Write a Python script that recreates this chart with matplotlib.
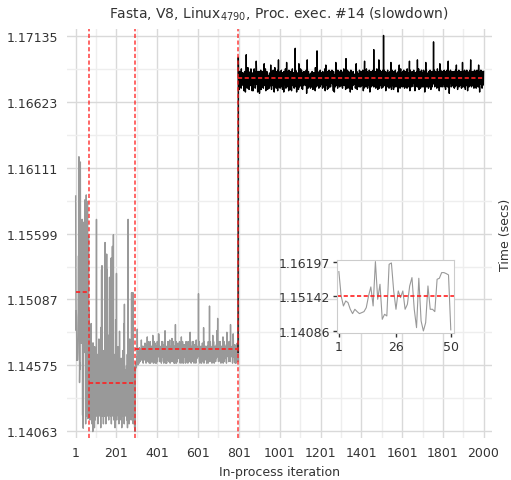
import matplotlib
matplotlib.use("Agg")
import matplotlib.pyplot as plt
from matplotlib.ticker import FixedLocator

# codes used for the long series: one char per iteration, value = base + index * step
ALPHABET = "0123456789abcdefghijklmnopqrstuvwxyzABCDEFGHIJKLMNOPQRSTUVWXYZ"

# iterations 1-68 (the first 50 are the ones shown in the inset)
seg_a = [1.15892, 1.15152, 1.14847, 1.14999, 1.14949, 1.14746, 1.14614, 1.14746,
         1.14675, 1.14614, 1.14644, 1.14675, 1.14797, 1.15152, 1.15426, 1.14847,
         1.16197, 1.15050, 1.15507, 1.14441, 1.14594, 1.14543, 1.16116, 1.16156,
         1.15304, 1.14746, 1.15304, 1.15101, 1.15304, 1.14746, 1.14898, 1.15456,
         1.15710, 1.14746, 1.14187, 1.15690, 1.14390, 1.14086, 1.14340, 1.15456,
         1.14746, 1.14746, 1.14675, 1.15659, 1.15690, 1.15862, 1.15862, 1.15832,
         1.15791, 1.14120,
         1.15450, 1.14320, 1.15900, 1.14180, 1.15020, 1.15600, 1.14250, 1.14700,
         1.15850, 1.14400, 1.14160, 1.15300, 1.14800, 1.15580, 1.14450, 1.15000,
         1.14200, 1.14750]

# iterations 69-293
seg_b_base, seg_b_step = 1.1406, 0.0003
seg_b_codes = """
5a3f8c4hsd 6b2k7e0n9c 5i8d1m6b3g 7c5dT4j8e6 k2a9f5o6d7
b4h6c1r5eG 7H4d9a6l2f 6c8i4bN7d5 2g9eK5cG8a 4j6b3p7dE5
c8f4a6J2h9 5dM7b4gP83 e6c9k1b7t5 a8F3di6c5m 7b4g2e9q6c
8f5a3j6d1h 7c9l5b4e8s 2x6g4c7d5a 8h3b6k1e9T 5c7f2a6o4d
8g5b3iA7c4 e6bA29d5h7 c1f0a
"""

# iterations 294-797
seg_c_base, seg_c_step = 1.1440, 0.00012
seg_c_codes = """
acfdhegkiC hjlfnikmgq jnlhpkomiv kplnirmogq nlrkpmitlo
mqgonsjpxl pnhulomqgt lousgqmphr olhpnyukgq knumpltgoi
pmrgonhulq nkpmzulohn rlnipmqgou mpkunlohqg lsnhpBmrgo
nkqgrlpiou qlnhumkpvo gpmnkrlhqw mnlphukoqg krolgpFmnu
pgnmrhlotj nqlpkmuhrg lmpinxrkgu hunlpmgqos mkpnrlgouh
rlohpnmguq kpnmulhoAm nlqgpimrou pmhnuklgqn lsknpmgrvo
njqlmpkroZ mpluhngoqm krolgnpmtq lnphDmguoq pkmnrliqog
mrjnplguqs nlpRmhkuqo kqmnlgproy phnulmgoqn rlnhpmjsoB
nkpJmrlhou lpnmkuhqog mrkpnlioqx gnpmulhsoq pljnmrgoAn
mqlpnkrhou nkumphFloq lpmnkrgqoz ukpnlmhsqg nlpgrmjoqt
mphn
"""

# iterations 798-2000
seg_d_base, seg_d_step = 1.1664, 0.0001
seg_d_codes = """
xlcg8ifmdh bkeg9ofcid hclebjgd7a fmcib6kgbz gdlc9hiped
cme8kgbldf ibodcgla7d kfa7ldhcog emb9adkgup dhclf69mei
gbmd5aflch nd8kegcamf hlb9gdmsei bkfoc7ighd mcfl8bhjce
ie9agcldbr fmc8hdkbig cngble6hdp gblfcm9iel kcg7nahvdf
blfdi9mcga hncebka8lg ecg6mcidhk cob99lgteb mdhacig7nf
dkbl8gecmh c7mfdobigl ebkg9lcdaE gncbmd6alf idbkg8csme
acldhobfgk n9egc8dlif cbmhdgckel gbdnc5bfvh lc9fmdhaeg
bkfd9achli eamcgb8ldh gldbkhc7pe cmgaelCdbi hbdlf9cmgk
adnbhfclie kcg9mdahbl egacod7bhr blfdkcg8im dh9ecnfalg
cmabgidkfn hdlcea7mgi b6fhcakdtl gbdmech9nf lcbgkdiaem
dhbncfbmgl a9kedhcobg mcfbld8aws edhc9nbigk bmd9gflch6
gcnbeial8h lcbmcfgdkc ehdg9cbosi cmf8ldhaeg kbgdnacmhf
aelchbmdgi ndg7kc9fmu bhcleagdof dmac9kgilb hfnbd6aemg
cgadmbhlei kncaDgbfld amhc9eldgo fbkd8alcmv dh9enbcigl
mcb9gdkhan gaOcnbdlei bdm7hfcgkl acnegbldh9 lbgdmacits
d8gcnbhlem c8hdkfamgb ndlacegbih afl6mdgbnr gcb9hdoake
ilbdgacmhf bndca9lehk makdcfb9og dhcalgbemu c7andbhfli
acmbgdlehk ngcadh7lbf edlbmcgavh kacgob8lhe bmd9fcagni
dhbcalgenk afmc6bhglt gcnadkbieh cl9dmagbhe nbgd8ahlfm
abmcgdhJel dncabkgmhf glb9cdoaei madhc7bksl cgnbaelhdm
bhadmcglfn dcgakb8mei lbdncagkhu acmd5bgelf ndgcabimhk
gcbmdaleh9 mdhacngblr bgdlc8mfhe cnagbdkhil dmbc9ghaet
hcadlbgmfn acg8mdhlbe ndbc7aileh gamcdbnhkv cldagbmhei
bmcdh9lgnf dagbmc9lhe nchdbagmrl amb6dlchen gdlca9mhbf
hcm
"""

# mean of each segment (red dashed lines)
seg_means = [1.15142, 1.14436, 1.14701, 1.16808]

y_ticks = [1.14063, 1.14575, 1.15087, 1.15599, 1.16111, 1.16623, 1.17135]
x_ticks = [1, 201, 401, 601, 801, 1001, 1201, 1401, 1601, 1801, 2000]
inset_y_ticks = [1.14086, 1.15142, 1.16197]
inset_x_ticks = [1, 26, 50]
inset_len = 50

TXT = "#333333"
GREY = "#999999"
RED = "#ff2020"
DASH = (0, (2.5, 1.5))


def decode(codes, base, step):
    return [base + ALPHABET.index(c) * step for c in "".join(codes.split())]


seg_b = decode(seg_b_codes, seg_b_base, seg_b_step)
seg_c = decode(seg_c_codes, seg_c_base, seg_c_step)
seg_d = decode(seg_d_codes, seg_d_base, seg_d_step)

times = seg_a + seg_b + seg_c + seg_d
iters = list(range(1, len(times) + 1))

# segment ends (changepoints)
ends = []
total = 0
for seg in (seg_a, seg_b, seg_c, seg_d):
    total += len(seg)
    ends.append(total)
starts = [1] + ends[:-1]

fig = plt.figure(figsize=(5.11, 4.81), dpi=100)
ax = fig.add_axes([0.1305, 0.0873, 0.8317, 0.8503])

# warmup part in grey, steady part in black
k = ends[2]
ax.plot(iters[:k], times[:k], color=GREY, lw=1.0)
ax.plot(iters[k - 1:], times[k - 1:], color="black", lw=1.0)

for s, e, m in zip(starts, ends, seg_means):
    ax.plot([s, e], [m, m], color=RED, ls=DASH, lw=1.2)
for e in ends[:-1]:
    ax.axvline(e, color=RED, ls=DASH, lw=1.2, alpha=0.8)

ax.set_xlim(-43, 2040)
ax.set_ylim(1.1401, 1.1719)
ax.set_xticks(x_ticks)
ax.set_xticklabels([str(t) for t in x_ticks])
ax.set_yticks(y_ticks)
ax.set_yticklabels(["%.5f" % t for t in y_ticks])
ax.xaxis.set_minor_locator(FixedLocator([(a + b) / 2 for a, b in zip(x_ticks, x_ticks[1:])]))
ax.yaxis.set_minor_locator(FixedLocator([(a + b) / 2 for a, b in zip(y_ticks, y_ticks[1:])]))
ax.grid(which="major", color="#d9d9d9", lw=1.0)
ax.grid(which="minor", color="#eeeeee", lw=1.0)
ax.set_axisbelow(True)
ax.tick_params(which="both", length=0, labelsize=9, labelcolor=TXT, pad=6)
for sp in ax.spines.values():
    sp.set_visible(False)

ax.set_title(r"Fasta, V8, Linux$_{4790}$, Proc. exec. #14 (slowdown)",
             fontsize=10, color=TXT, pad=8)
ax.set_xlabel("In-process iteration", fontsize=9, color=TXT, labelpad=4)
ax.yaxis.set_label_position("right")
ax.set_ylabel("Time (secs)", fontsize=9, color=TXT, labelpad=5)

# inset: first iterations
axin = fig.add_axes([0.660, 0.306, 0.228, 0.151])
axin.plot(iters[:inset_len], times[:inset_len], color=GREY, lw=0.8)
axin.axhline(seg_means[0], color=RED, ls=DASH, lw=1.2)
axin.set_xlim(0.3, 51.3)
axin.set_ylim(1.1403, 1.1624)
axin.set_xticks(inset_x_ticks)
axin.set_yticks(inset_y_ticks)
axin.set_yticklabels(["%.5f" % t for t in inset_y_ticks])
axin.tick_params(length=3, width=1, color=TXT, labelsize=9, labelcolor=TXT, pad=2)
for sp in axin.spines.values():
    sp.set_color("#cccccc")
axin.set_facecolor("white")

fig.savefig("out.png", dpi=100)
